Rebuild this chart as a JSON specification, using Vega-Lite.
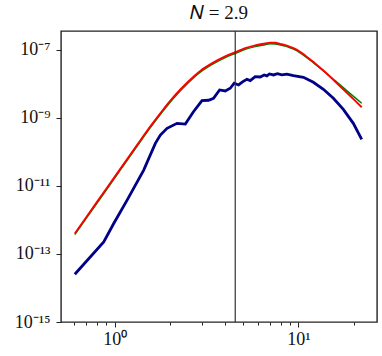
{
  "$schema": "https://vega.github.io/schema/vega-lite/v6.json",
  "width": 316,
  "height": 291,
  "autosize": {"type": "none"},
  "padding": {"left": 61, "top": 31, "right": 5, "bottom": 34},
  "background": "white",
  "config": {
    "view": {"stroke": "#222222", "strokeWidth": 1.4},
    "font": "Liberation Serif",
    "title": {"font": "Liberation Serif", "fontSize": 19, "fontWeight": "normal", "color": "#111111"}
  },
  "title": {"text": "𝑁 = 2.9", "font": "Liberation Serif", "fontSize": 19, "fontWeight": "normal", "color": "#111111", "offset": 7},
  "datasets": {
    "green": [
      {"x": 0.6064, "y": 3.7e-13}, {"x": 0.7106, "y": 1.25e-12}, {"x": 0.836, "y": 4.35e-12},
      {"x": 0.9777, "y": 1.44e-11}, {"x": 1.1433, "y": 4.79e-11}, {"x": 1.3368, "y": 1.59e-10},
      {"x": 1.5633, "y": 5.19e-10}, {"x": 1.8279, "y": 1.57e-9}, {"x": 2.1374, "y": 4.35e-9},
      {"x": 2.4993, "y": 1.05e-8}, {"x": 2.9225, "y": 2.22e-8}, {"x": 3.4174, "y": 3.82e-8},
      {"x": 3.9966, "y": 5.92e-8}, {"x": 4.529, "y": 7.88e-8}, {"x": 5.133, "y": 1.035e-7},
      {"x": 5.817, "y": 1.25e-7}, {"x": 6.592, "y": 1.42e-7}, {"x": 7.018, "y": 1.51e-7},
      {"x": 7.47, "y": 1.5e-7}, {"x": 7.953, "y": 1.4e-7}, {"x": 8.466, "y": 1.3e-7},
      {"x": 9.013, "y": 1.15e-7}, {"x": 9.596, "y": 1.0e-7}, {"x": 10.876, "y": 6.5e-8},
      {"x": 12.326, "y": 3.8e-8}, {"x": 13.969, "y": 2.2e-8}, {"x": 15.83, "y": 1.245e-8},
      {"x": 17.94, "y": 7.02e-9}, {"x": 20.33, "y": 3.94e-9}, {"x": 22.11, "y": 2.7e-9}
    ],
    "red": [
      {"x": 0.6064, "y": 4.01e-13}, {"x": 0.7106, "y": 1.36e-12}, {"x": 0.836, "y": 4.73e-12},
      {"x": 0.9777, "y": 1.57e-11}, {"x": 1.1433, "y": 5.21e-11}, {"x": 1.3368, "y": 1.73e-10},
      {"x": 1.5633, "y": 5.64e-10}, {"x": 1.8279, "y": 1.71e-9}, {"x": 2.1374, "y": 4.73e-9},
      {"x": 2.4993, "y": 1.14e-8}, {"x": 2.9225, "y": 2.41e-8}, {"x": 3.4174, "y": 4.15e-8},
      {"x": 3.9966, "y": 6.44e-8}, {"x": 4.529, "y": 8.57e-8}, {"x": 5.133, "y": 1.125e-7},
      {"x": 5.817, "y": 1.36e-7}, {"x": 6.592, "y": 1.545e-7}, {"x": 7.018, "y": 1.644e-7},
      {"x": 7.47, "y": 1.62e-7}, {"x": 7.953, "y": 1.5e-7}, {"x": 8.466, "y": 1.39e-7},
      {"x": 9.013, "y": 1.23e-7}, {"x": 9.596, "y": 1.07e-7}, {"x": 10.876, "y": 6.9e-8},
      {"x": 12.326, "y": 4.01e-8}, {"x": 13.969, "y": 2.25e-8}, {"x": 15.83, "y": 1.18e-8},
      {"x": 17.94, "y": 6.21e-9}, {"x": 20.33, "y": 3.22e-9}, {"x": 22.11, "y": 2.06e-9}
    ],
    "blue": [
      {"x": 0.6064, "y": 2.54e-14}, {"x": 0.8713, "y": 2.27e-13}, {"x": 0.9876, "y": 7.88e-13},
      {"x": 1.168, "y": 3.84e-12}, {"x": 1.438, "y": 2.93e-11}, {"x": 1.664, "y": 1.79e-10},
      {"x": 1.772, "y": 3.15e-10}, {"x": 1.927, "y": 4.95e-10}, {"x": 2.184, "y": 6.95e-10},
      {"x": 2.423, "y": 6.62e-10}, {"x": 2.677, "y": 1.5e-9}, {"x": 2.985, "y": 3.22e-9},
      {"x": 3.243, "y": 3.31e-9}, {"x": 3.451, "y": 3.78e-9}, {"x": 3.722, "y": 6.65e-9},
      {"x": 3.997, "y": 6.21e-9}, {"x": 4.254, "y": 7.46e-9}, {"x": 4.472, "y": 1.05e-8},
      {"x": 4.72, "y": 9.33e-9}, {"x": 4.985, "y": 1.17e-8}, {"x": 5.244, "y": 1.37e-8},
      {"x": 5.465, "y": 1.25e-8}, {"x": 5.817, "y": 1.64e-8}, {"x": 6.193, "y": 1.6e-8},
      {"x": 6.51, "y": 1.84e-8}, {"x": 6.734, "y": 1.72e-8}, {"x": 6.957, "y": 1.97e-8},
      {"x": 7.313, "y": 1.84e-8}, {"x": 7.69, "y": 2.01e-8}, {"x": 8.126, "y": 1.84e-8},
      {"x": 8.65, "y": 1.93e-8}, {"x": 9.394, "y": 1.75e-8}, {"x": 10.65, "y": 1.57e-8},
      {"x": 12.06, "y": 1.12e-8}, {"x": 13.68, "y": 6.96e-9}, {"x": 15.5, "y": 3.78e-9},
      {"x": 17.56, "y": 1.79e-9}, {"x": 19.9, "y": 6.95e-10}, {"x": 22.11, "y": 2.35e-10}
    ],
    "vline": [{"x": 4.53}]
  },
  "encoding": {
    "x": {
      "field": "x", "type": "quantitative",
      "scale": {"type": "log", "domain": [0.51, 26.78], "nice": false, "zero": false},
      "axis": {
        "title": null, "grid": false, "domain": false,
        "values": [0.6, 0.7, 0.8, 0.9, 1, 2, 3, 4, 5, 6, 7, 8, 9, 10, 20],
        "labelExpr": "datum.value == 1 ? '10⁰' : datum.value == 10 ? '10¹' : ''",
        "tickSize": {"condition": {"test": "datum.value == 1 || datum.value == 10", "value": 5}, "value": 3},
        "tickColor": "#222222", "tickWidth": 1,
        "labelFont": "Liberation Serif", "labelFontSize": 18, "labelColor": "#111111",
        "labelPadding": 3, "labelFlush": false, "labelOverlap": false
      }
    },
    "y": {
      "field": "y", "type": "quantitative",
      "scale": {"type": "log", "domain": [1e-15, 3.6e-7], "nice": false, "zero": false},
      "axis": {
        "title": null, "grid": false, "domain": false,
        "values": [1e-15, 1e-13, 1e-11, 1e-9, 1e-7],
        "labelExpr": "datum.value < 5e-15 ? '10⁻¹⁵' : datum.value < 5e-13 ? '10⁻¹³' : datum.value < 5e-11 ? '10⁻¹¹' : datum.value < 5e-9 ? '10⁻⁹' : '10⁻⁷'",
        "tickSize": 5, "tickColor": "#222222", "tickWidth": 1,
        "labelFont": "Liberation Serif", "labelFontSize": 18, "labelColor": "#111111",
        "labelPadding": 6, "labelFlush": false, "labelOverlap": false
      }
    }
  },
  "layer": [
    {"data": {"name": "green"}, "mark": {"type": "line", "color": "#008000", "strokeWidth": 1.5, "interpolate": "monotone", "clip": true}},
    {"data": {"name": "red"}, "mark": {"type": "line", "color": "#ff0000", "strokeWidth": 1.9, "interpolate": "monotone", "clip": true}},
    {"data": {"name": "blue"}, "mark": {"type": "line", "color": "#000088", "strokeWidth": 2.8, "clip": true}},
    {"data": {"name": "vline"}, "mark": {"type": "rule", "color": "#333333", "strokeWidth": 1.2}, "encoding": {"y": null}}
  ]
}
